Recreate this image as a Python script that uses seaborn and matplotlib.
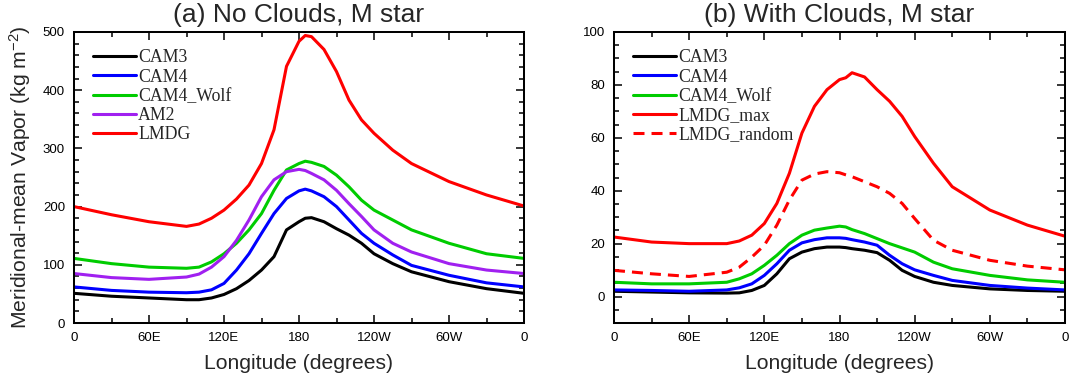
import matplotlib
matplotlib.use("Agg")
import matplotlib.pyplot as plt
import seaborn as sns
import numpy as np
import pandas as pd
from matplotlib.ticker import MultipleLocator

# ---------------- data ----------------
lon = [0, 30, 60, 90, 100, 110, 120, 130, 140, 150, 160, 170, 180, 185, 190,
       200, 210, 220, 230, 240, 255, 270, 300, 330, 360]
xtick_pos = [0, 60, 120, 180, 240, 300, 360]
xtick_labels = ["0", "60E", "120E", "180", "120W", "60W", "0"]

# panel (a) No clouds
a_cam3 = [51, 46, 43, 40, 40, 43, 49, 59, 73, 91, 114, 160, 174, 180, 181,
          174, 162, 151, 137, 119, 102, 88, 71, 59, 51]
a_cam4 = [62, 56, 53, 52, 53, 57, 68, 91, 119, 154, 188, 214, 227, 230, 227,
          217, 200, 177, 154, 137, 117, 99, 82, 69, 62]
a_wolf = [111, 102, 96, 94, 96, 105, 119, 137, 160, 188, 228, 263, 274, 278, 276,
          269, 254, 234, 211, 194, 177, 160, 137, 119, 111]
a_am2 = [85, 78, 75, 79, 84, 96, 114, 142, 177, 217, 246, 260, 264, 262, 257,
         246, 228, 205, 183, 160, 137, 122, 102, 91, 85]
a_lmdg = [200, 186, 174, 166, 170, 180, 194, 213, 237, 274, 332, 441, 484, 494, 492,
          470, 432, 383, 349, 326, 297, 274, 243, 220, 201]

# panel (b) With clouds
b_cam3 = [2.0, 1.7, 1.4, 1.3, 1.4, 2.3, 4.2, 8.6, 14.3, 16.8, 18.1, 18.7, 18.7, 18.5, 18.1,
          17.5, 16.6, 13.7, 9.9, 7.6, 5.4, 4.2, 2.9, 2.3, 2.0]
b_cam4 = [2.5, 2.3, 2.0, 2.5, 3.3, 4.8, 8.0, 12.4, 17.5, 20.3, 21.5, 22.2, 22.2, 22.0, 21.5,
          20.6, 19.4, 15.6, 12.4, 10.1, 8.0, 6.1, 4.2, 3.2, 2.5]
b_wolf = [5.4, 4.8, 4.8, 5.4, 6.7, 8.6, 11.8, 15.6, 20.0, 23.2, 25.1, 25.9, 26.6, 26.3, 25.3,
          23.8, 21.9, 20.0, 18.4, 16.8, 13.0, 10.5, 8.0, 6.3, 5.4]
b_lmdg_max = [22.5, 20.6, 20.0, 20.0, 21.0, 23.2, 27.6, 35.2, 46.6, 61.8, 71.9, 78.2, 82.0, 82.7, 84.6,
              83.0, 78.2, 73.8, 68.1, 60.5, 50.4, 41.5, 32.7, 27.0, 22.8]
b_lmdg_rand = [9.9, 8.6, 7.6, 9.2, 11.1, 14.9, 19.4, 27.0, 36.5, 44.0, 46.3, 47.2, 46.8, 46.0, 45.3,
               43.4, 41.5, 39.0, 35.2, 29.5, 21.3, 17.5, 13.7, 11.5, 10.1]

sns.set_style("ticks")
plt.rcParams['font.family'] = ['Liberation Sans', 'DejaVu Sans']
plt.rcParams['mathtext.fontset'] = 'custom'
plt.rcParams['mathtext.rm'] = 'Liberation Sans'
plt.rcParams['mathtext.it'] = 'Liberation Sans:italic'
plt.rcParams['mathtext.bf'] = 'Liberation Sans:bold'

fig = plt.figure(figsize=(10.7, 3.83), dpi=100)
axA = fig.add_axes([74/1070, 60/383, 450/1070, 291/383])
axB = fig.add_axes([614/1070, 60/383, 451/1070, 291/383])

LW = 2.2
seriesA = [("CAM3", a_cam3, "black", "-"), ("CAM4", a_cam4, "#0000ff", "-"),
           ("CAM4_Wolf", a_wolf, "#00cc00", "-"), ("AM2", a_am2, "#a020f0", "-"),
           ("LMDG", a_lmdg, "#ff0000", "-")]
seriesB = [("CAM3", b_cam3, "black", "-"), ("CAM4", b_cam4, "#0000ff", "-"),
           ("CAM4_Wolf", b_wolf, "#00cc00", "-"), ("LMDG_max", b_lmdg_max, "#ff0000", "-"),
           ("LMDG_random", b_lmdg_rand, "#ff0000", (0, (3.6, 2.3)))]

for ax, series in ((axA, seriesA), (axB, seriesB)):
    for name, vals, col, ls in series:
        df = pd.DataFrame({"lon": lon, "val": vals})
        sns.lineplot(data=df, x="lon", y="val", ax=ax, color=col, linewidth=LW,
                     linestyle=ls, label=name)
    ax.set_xlim(0, 360)
    ax.set_xticks(xtick_pos)
    ax.set_xticklabels(xtick_labels)
    ax.xaxis.set_minor_locator(MultipleLocator(30))
    ax.tick_params(which="both", direction="in", top=True, right=True,
                   labelsize=9.5, width=1.1, pad=6.5, colors="black")
    ax.tick_params(which="major", length=5.8)
    ax.tick_params(which="minor", length=3.6)
    for s in ax.spines.values():
        s.set_linewidth(1.45)
        s.set_visible(True)
        s.set_color("black")
    ax.set_xlabel("Longitude (degrees)", fontsize=15.2, labelpad=7)
    ax.set_ylabel("")
    ax.legend(loc="upper left", bbox_to_anchor=(0.042, 0.94), frameon=False,
              prop={"family": "Liberation Serif", "size": 12.8},
              handlelength=2.4, handletextpad=0.15, labelspacing=0.12,
              borderaxespad=0.0, borderpad=0.0)

axA.set_ylim(0, 500)
axA.yaxis.set_major_locator(MultipleLocator(100))
axA.yaxis.set_minor_locator(MultipleLocator(20))
axA.set_ylabel("Meridional-mean Vapor (kg m$^{-2}$)", fontsize=15.2, labelpad=7)
axA.set_title("(a) No Clouds, M star", fontsize=19, pad=7.5)

axB.set_ylim(-10, 100)
axB.yaxis.set_major_locator(MultipleLocator(20))
axB.yaxis.set_minor_locator(MultipleLocator(5))
axB.set_title("(b) With Clouds, M star", fontsize=19, pad=7.5)

fig.savefig("out.png", dpi=100)
